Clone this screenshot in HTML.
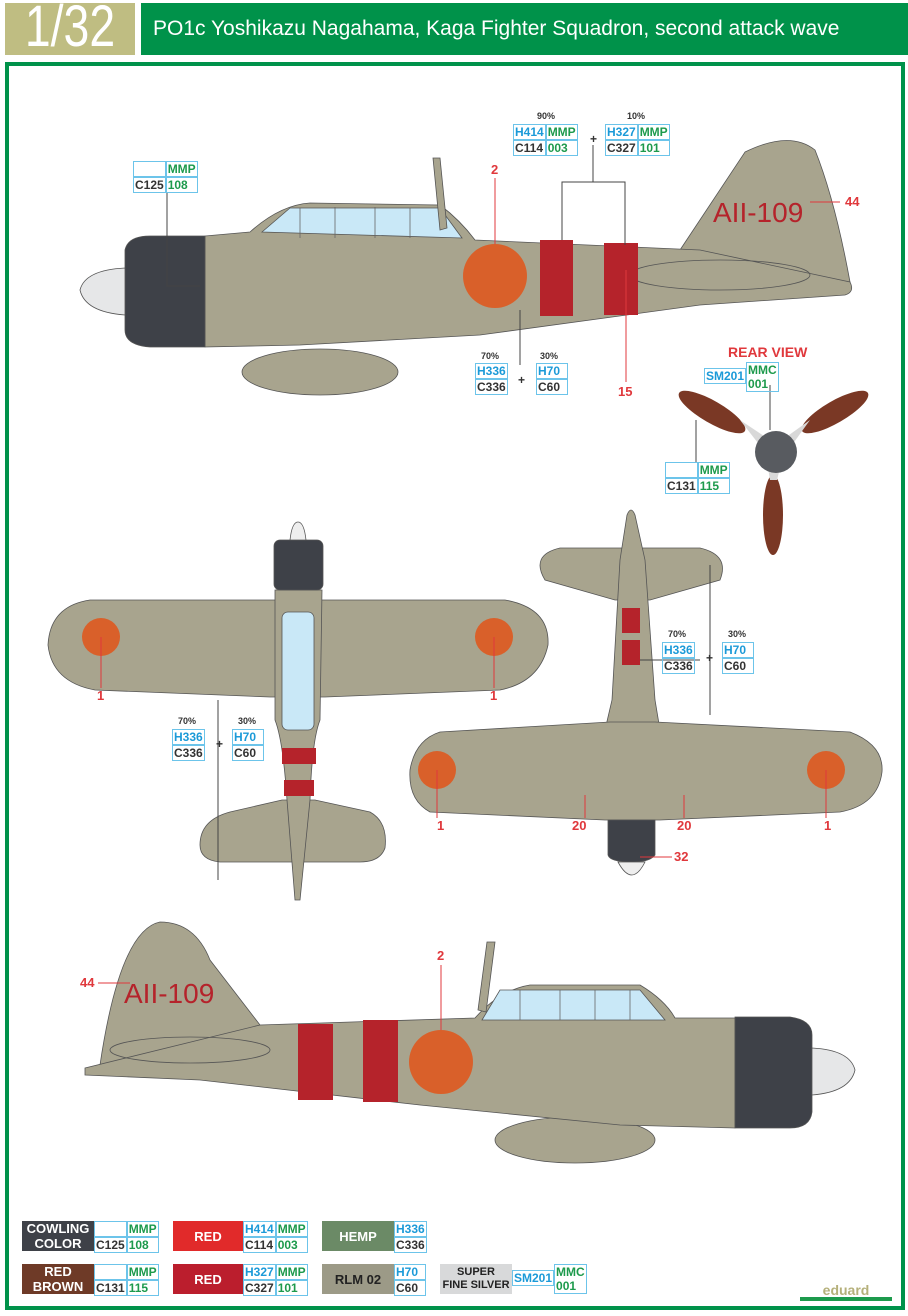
<!DOCTYPE html>
<html><head><meta charset="utf-8"><style>
body{margin:0;width:908px;height:1316px;background:#fff;position:relative;overflow:hidden;font-family:"Liberation Sans",sans-serif}
.a{position:absolute}
.lb{position:absolute;display:grid;grid-template-columns:auto auto;font-size:12px;line-height:14px;font-weight:bold}
.lb span{border:1px solid #6cc4ea;padding:0 1px;min-width:28px;height:14px;text-align:left}
.b{color:#1b9ad8}.g{color:#1d9a4c}.k{color:#333}
.pc{position:absolute;font-size:9px;font-weight:bold;color:#333}
.n{position:absolute;color:#e0383c;font-size:13px;font-weight:bold}
.sw{position:absolute;height:30px;color:#fff;font-weight:bold;font-size:13px;display:flex;align-items:center;justify-content:center;text-align:center;line-height:15px}
</style></head><body>
<div class="a" style="left:5px;top:3px;width:130px;height:52px;background:#bfbd82;"></div>
<div class="a" style="left:5px;top:-3px;width:130px;height:60px;color:#fff;font-size:58px;line-height:60px;text-align:center;transform:scaleX(0.8)">1/32</div>
<div class="a" style="left:141px;top:3px;width:767px;height:52px;background:#00924a;color:#fff;font-size:21px;line-height:52px;padding-left:12px;box-sizing:border-box">PO1c Yoshikazu Nagahama, Kaga Fighter Squadron, second attack wave</div>
<div class="a" style="left:5px;top:62px;width:900px;height:1248px;border:4px solid #00924a;box-sizing:border-box"></div>

<svg class="a" style="left:0;top:0" width="908" height="1316">
<g stroke="#555" stroke-width="0.8">
<!-- TOP SIDE VIEW -->
<ellipse cx="320" cy="372" rx="78" ry="23" fill="#a8a48e"/>
<path d="M680,250 L745,152 Q790,130 815,150 Q835,200 850,282 L700,300 Z" fill="#a8a48e"/>
<path d="M205,236 L250,232 Q280,205 310,203 L440,205 Q460,220 475,240 L700,250 L850,282 Q855,292 845,295 L700,305 L480,335 L300,345 L205,347 Z" fill="#a8a48e"/>
<path d="M262,232 L290,208 L440,208 L462,238 Z" fill="#c9e8f7"/>
<path d="M300,208 V238 M335,207 V238 M375,207 V238 M410,208 V238" stroke="#666"/>
<ellipse cx="720" cy="275" rx="90" ry="15" fill="none"/>
<path d="M125,250 Q128,236 150,236 L205,236 L205,347 L150,347 Q125,345 125,330 Z" fill="#3e4148"/>
<path d="M125,268 Q85,270 80,290 Q85,312 125,315 Z" fill="#e6e7e8"/>
<circle cx="495" cy="276" r="32" fill="#d9602a" stroke="none"/>
<rect x="540" y="240" width="33" height="76" fill="#b5232b" stroke="none"/>
<rect x="604" y="243" width="34" height="72" fill="#b5232b" stroke="none"/>
<path d="M433,158 L440,158 L447,228 L440,230 Z" fill="#a8a48e"/>
<!-- REAR VIEW -->
<g stroke="none">
<ellipse cx="712" cy="412" rx="38" ry="11" transform="rotate(30 712 412)" fill="#7a3825"/>
<ellipse cx="835" cy="412" rx="38" ry="11" transform="rotate(-30 835 412)" fill="#7a3825"/>
<ellipse cx="773" cy="515" rx="10" ry="40" fill="#7a3825"/>
<path d="M740,420 L770,440 L765,452 Z M810,420 L782,440 L787,452Z M768,468 H780 L777,480 H770Z" fill="#d8d8d8"/>
<circle cx="776" cy="452" r="21" fill="#585b60"/>
</g>
<!-- TOP VIEW (left) -->
<path d="M90,600 L505,600 Q550,608 548,645 Q540,682 500,690 L325,697 L270,697 L95,690 Q52,682 48,645 Q50,606 90,600 Z" fill="#a8a48e"/>
<path d="M200,845 Q200,820 230,812 L282,800 L315,800 L370,812 Q388,822 385,848 Q380,862 360,862 L220,862 Q200,860 200,845Z" fill="#a8a48e"/>
<path d="M275,590 L322,590 L320,720 Q312,740 310,800 L300,900 L295,900 L287,800 Q283,740 275,720 Z" fill="#a8a48e"/>
<rect x="274" y="540" width="49" height="50" rx="6" fill="#3e4148"/>
<path d="M290,540 Q292,522 298,522 Q304,522 306,540Z" fill="#eee"/>
<rect x="282" y="612" width="32" height="118" rx="6" fill="#c9e8f7"/>
<rect x="282" y="748" width="34" height="16" fill="#b5232b" stroke="none"/>
<rect x="284" y="780" width="30" height="16" fill="#b5232b" stroke="none"/>
<circle cx="101" cy="637" r="19" fill="#d9602a" stroke="none"/>
<circle cx="494" cy="637" r="19" fill="#d9602a" stroke="none"/>
<!-- BOTTOM VIEW (right) -->
<path d="M545,580 Q530,555 560,548 L700,548 Q730,555 720,580 L650,600 L615,600 Z" fill="#a8a48e"/>
<path d="M620,560 L627,515 Q631,505 635,515 L645,560 L655,700 L660,730 L605,730 L612,700 Z" fill="#a8a48e"/>
<path d="M440,732 L610,722 L655,722 L850,732 Q884,745 882,772 Q878,805 840,812 L660,820 L605,820 L430,812 Q408,800 410,770 Q415,740 440,732Z" fill="#a8a48e"/>
<path d="M608,820 L655,820 L655,855 Q650,862 632,862 Q610,862 608,855Z" fill="#3e4148"/>
<path d="M618,862 Q632,888 645,862Z" fill="#eee"/>
<rect x="622" y="608" width="18" height="25" fill="#b5232b" stroke="none"/>
<rect x="622" y="640" width="18" height="25" fill="#b5232b" stroke="none"/>
<circle cx="437" cy="770" r="19" fill="#d9602a" stroke="none"/>
<circle cx="826" cy="770" r="19" fill="#d9602a" stroke="none"/>
<!-- BOTTOM SIDE VIEW -->
<ellipse cx="575" cy="1140" rx="80" ry="23" fill="#a8a48e"/>
<path d="M100,1065 Q120,930 160,922 Q195,922 210,960 L260,1025 L200,1060 Z" fill="#a8a48e"/>
<path d="M85,1068 L260,1025 L475,1018 Q500,990 530,985 L640,985 Q665,1000 675,1018 L735,1018 L735,1128 L620,1125 L420,1105 L200,1080 L85,1075 Z" fill="#a8a48e"/>
<path d="M482,1020 L500,990 L640,990 L665,1020 Z" fill="#c9e8f7"/>
<path d="M520,990 V1020 M560,990 V1020 M595,990 V1020 M630,990 V1020" stroke="#666"/>
<path d="M487,942 L495,942 L486,1012 L478,1010 Z" fill="#a8a48e"/>
<ellipse cx="190" cy="1050" rx="80" ry="13" fill="none"/>
<path d="M735,1017 L790,1017 Q812,1020 812,1035 L812,1112 Q810,1128 790,1128 L735,1128 Z" fill="#3e4148"/>
<path d="M812,1048 Q850,1050 855,1070 Q850,1092 812,1095Z" fill="#e6e7e8"/>
<circle cx="441" cy="1062" r="32" fill="#d9602a" stroke="none"/>
<rect x="298" y="1024" width="35" height="76" fill="#b5232b" stroke="none"/>
<rect x="363" y="1020" width="35" height="82" fill="#b5232b" stroke="none"/>
</g>
<g stroke="#444" stroke-width="1" fill="none">
<path d="M167,192 V286 H200"/>
<path d="M562,240 V182 H625 V245 M593,182 V145"/>
<path d="M520,310 V365"/>
<path d="M770,385 V430"/>
<path d="M696,462 V420"/>
<path d="M218,700 V880"/>
<path d="M710,565 V715 M700,660 H640"/>
</g>
<g stroke="#e0383c" stroke-width="1" fill="none">
<path d="M495,178 V244"/><path d="M626,270 V382"/><path d="M810,202 H840"/>
<path d="M101,637 V688"/><path d="M494,637 V688"/><path d="M437,770 V818"/><path d="M826,770 V818"/>
<path d="M585,795 V818"/><path d="M684,795 V818"/><path d="M640,857 H672"/>
<path d="M98,983 H130"/><path d="M441,965 V1030"/>
</g>
<g fill="#b5232b" font-family="Liberation Sans,sans-serif" font-size="28">
<text x="713" y="222">AII-109</text><text x="124" y="1003">AII-109</text>
</g>
<g fill="#333" font-size="12" font-weight="bold" font-family="Liberation Sans,sans-serif">
<text x="590" y="143">+</text><text x="518" y="384">+</text><text x="216" y="748">+</text><text x="706" y="662">+</text>
</g>
</svg>

<div class="n" style="left:491px;top:162px">2</div>
<div class="n" style="left:845px;top:194px">44</div>
<div class="n" style="left:618px;top:384px">15</div>
<div class="a" style="left:728px;top:344px;color:#e0383c;font-weight:bold;font-size:14px">REAR VIEW</div>
<div class="n" style="left:97px;top:688px">1</div>
<div class="n" style="left:490px;top:688px">1</div>
<div class="n" style="left:437px;top:818px">1</div>
<div class="n" style="left:824px;top:818px">1</div>
<div class="n" style="left:572px;top:818px">20</div>
<div class="n" style="left:677px;top:818px">20</div>
<div class="n" style="left:674px;top:849px">32</div>
<div class="n" style="left:80px;top:975px">44</div>
<div class="n" style="left:437px;top:948px">2</div>

<div class="lb" style="left:133px;top:161px"><span></span><span class="g">MMP</span><span class="k">C125</span><span class="g">108</span></div>
<div class="pc" style="left:537px;top:111px">90%</div><div class="pc" style="left:627px;top:111px">10%</div>
<div class="lb" style="left:513px;top:124px"><span class="b">H414</span><span class="g">MMP</span><span class="k">C114</span><span class="g">003</span></div>
<div class="lb" style="left:605px;top:124px"><span class="b">H327</span><span class="g">MMP</span><span class="k">C327</span><span class="g">101</span></div>
<div class="pc" style="left:481px;top:351px">70%</div><div class="pc" style="left:540px;top:351px">30%</div>
<div class="lb" style="left:475px;top:363px;grid-template-columns:auto"><span class="b">H336</span><span class="k">C336</span></div>
<div class="lb" style="left:536px;top:363px;grid-template-columns:auto"><span class="b">H70</span><span class="k">C60</span></div>
<div class="lb" style="left:704px;top:362px"><span class="b" style="margin-top:6px">SM201</span><span class="g" style="grid-row:span 2;height:28px">MMC<br>001</span></div>
<div class="lb" style="left:665px;top:462px"><span></span><span class="g">MMP</span><span class="k">C131</span><span class="g">115</span></div>
<div class="pc" style="left:178px;top:716px">70%</div><div class="pc" style="left:238px;top:716px">30%</div>
<div class="lb" style="left:172px;top:729px;grid-template-columns:auto"><span class="b">H336</span><span class="k">C336</span></div>
<div class="lb" style="left:232px;top:729px;grid-template-columns:auto"><span class="b">H70</span><span class="k">C60</span></div>
<div class="pc" style="left:668px;top:629px">70%</div><div class="pc" style="left:728px;top:629px">30%</div>
<div class="lb" style="left:662px;top:642px;grid-template-columns:auto"><span class="b">H336</span><span class="k">C336</span></div>
<div class="lb" style="left:722px;top:642px;grid-template-columns:auto"><span class="b">H70</span><span class="k">C60</span></div>

<!-- legend -->
<div class="sw" style="left:22px;top:1221px;width:72px;background:#3e4148">COWLING<br>COLOR</div>
<div class="lb" style="left:94px;top:1221px"><span></span><span class="g">MMP</span><span class="k">C125</span><span class="g">108</span></div>
<div class="sw" style="left:173px;top:1221px;width:70px;background:#e12a2a">RED</div>
<div class="lb" style="left:243px;top:1221px"><span class="b">H414</span><span class="g">MMP</span><span class="k">C114</span><span class="g">003</span></div>
<div class="sw" style="left:322px;top:1221px;width:72px;background:#6b8a66">HEMP</div>
<div class="lb" style="left:394px;top:1221px;grid-template-columns:auto"><span class="b">H336</span><span class="k">C336</span></div>
<div class="sw" style="left:22px;top:1264px;width:72px;background:#6e3a27">RED<br>BROWN</div>
<div class="lb" style="left:94px;top:1264px"><span></span><span class="g">MMP</span><span class="k">C131</span><span class="g">115</span></div>
<div class="sw" style="left:173px;top:1264px;width:70px;background:#bb1e2d">RED</div>
<div class="lb" style="left:243px;top:1264px"><span class="b">H327</span><span class="g">MMP</span><span class="k">C327</span><span class="g">101</span></div>
<div class="sw" style="left:322px;top:1264px;width:72px;background:#9c9a87;color:#222">RLM 02</div>
<div class="lb" style="left:394px;top:1264px;grid-template-columns:auto"><span class="b">H70</span><span class="k">C60</span></div>
<div class="sw" style="left:440px;top:1264px;width:72px;background:#d8d9da;color:#222;font-size:11px;line-height:13px">SUPER<br>FINE SILVER</div>
<div class="lb" style="left:512px;top:1264px"><span class="b" style="margin-top:6px">SM201</span><span class="g" style="grid-row:span 2;height:28px">MMC<br>001</span></div>
<div class="a" style="left:800px;top:1283px;width:92px;height:14px;color:#b5b07a;font-weight:bold;font-size:14px;line-height:14px;text-align:center;border-bottom:4px solid #1d9a4c">eduard</div>
</body></html>
